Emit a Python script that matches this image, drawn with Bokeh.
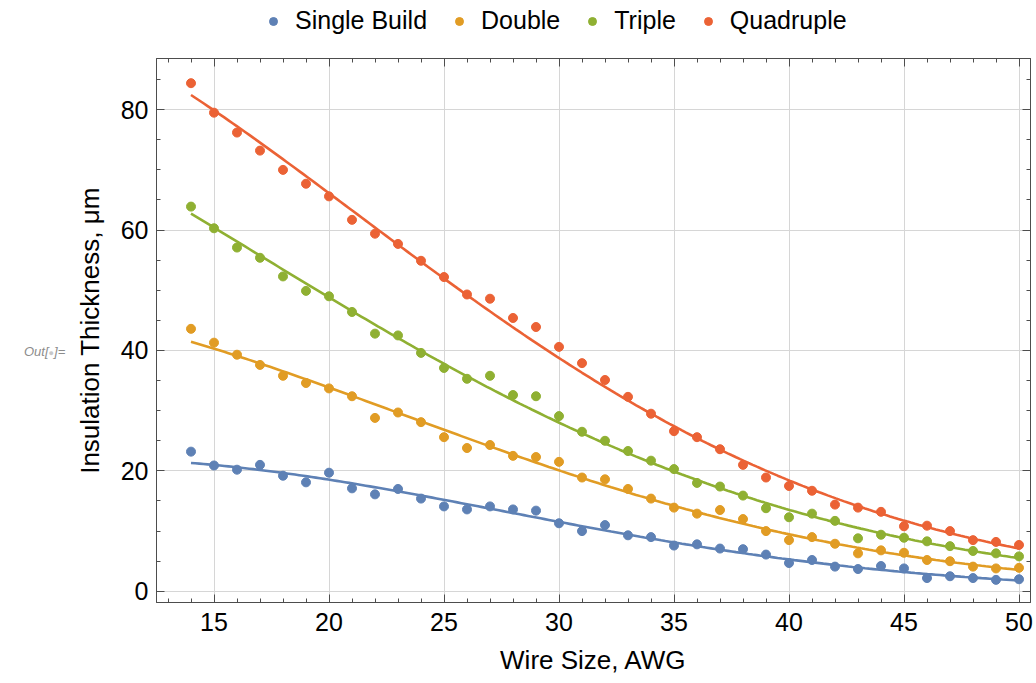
from bokeh.plotting import figure
from bokeh.models import Range1d, LinearAxis, Legend, LegendItem, FixedTicker, Div
from bokeh.layouts import row, column
from bokeh.embed import file_html
from bokeh.resources import INLINE
import numpy as np

awg = list(range(14, 51))
single = [23.2, 20.9, 20.2, 21.0, 19.2, 18.1, 19.7, 17.1, 16.1, 17.0, 15.4, 14.1, 13.6,
          14.1, 13.6, 13.4, 11.3, 10.0, 11.0, 9.3, 9.0, 7.6, 7.8, 7.1, 7.0, 6.1, 4.7,
          5.2, 4.1, 3.7, 4.2, 3.8, 2.2, 2.5, 2.2, 1.9, 2.0]
double = [43.6, 41.3, 39.3, 37.6, 35.8, 34.6, 33.7, 32.4, 28.8, 29.7, 28.1, 25.6, 23.8,
          24.3, 22.5, 22.3, 21.5, 18.9, 18.6, 17.0, 15.4, 13.9, 12.9, 13.5, 12.0, 10.0,
          8.5, 9.0, 7.9, 6.3, 6.8, 6.4, 5.2, 5.0, 4.1, 3.8, 3.9]
triple = [63.9, 60.3, 57.1, 55.4, 52.3, 49.9, 49.0, 46.4, 42.8, 42.5, 39.6, 37.1, 35.3,
          35.8, 32.6, 32.4, 29.1, 26.5, 25.0, 23.3, 21.7, 20.3, 18.0, 17.4, 15.9, 13.8,
          12.3, 12.9, 11.7, 8.8, 9.4, 8.9, 8.3, 7.5, 6.7, 6.3, 5.8]
quadruple = [84.4, 79.5, 76.2, 73.2, 70.0, 67.7, 65.6, 61.7, 59.4, 57.7, 54.9, 52.2, 49.3,
             48.6, 45.4, 43.9, 40.6, 37.9, 35.1, 32.3, 29.5, 26.6, 25.6, 23.6, 21.0, 18.9,
             17.5, 16.7, 14.4, 13.9, 13.2, 10.8, 10.9, 10.0, 8.5, 8.2, 7.7]

series_names = ["Single Build", "Double", "Triple", "Quadruple"]
series_values = [single, double, triple, quadruple]
colors = ["#5E81B5", "#E19C24", "#8FB032", "#EB6235"]

x_ticks = [15, 20, 25, 30, 35, 40, 45, 50]
y_ticks = [0, 20, 40, 60, 80]

FONT = "Liberation Sans"
AXC = "#4d4d4d"
DIV_W = 70
LEG_H = 57

p = figure(frame_width=874, frame_height=544, output_backend="svg", toolbar_location=None,
           x_range=Range1d(12.5, 50.5), y_range=Range1d(-1.86, 88.5),
           min_border_left=156 - DIV_W, min_border_right=6, min_border_top=1,
           min_border_bottom=81)
p.background_fill_color = "white"
p.border_fill_color = "white"
p.outline_line_color = AXC
p.outline_line_width = 1

xt = FixedTicker(ticks=x_ticks, minor_ticks=list(range(13, 51)))
yt = FixedTicker(ticks=y_ticks, minor_ticks=list(range(0, 90, 5)))

def style_axis(ax, labels=True):
    ax.axis_line_color = AXC
    ax.major_tick_line_color = AXC
    ax.minor_tick_line_color = AXC
    ax.major_tick_in = 8
    ax.major_tick_out = 0
    ax.minor_tick_in = 4
    ax.minor_tick_out = 0
    ax.major_label_text_font = FONT
    ax.major_label_text_color = "black"
    ax.axis_label_text_font = FONT
    ax.axis_label_text_font_style = "normal"
    ax.axis_label_text_color = "black"
    if labels:
        ax.major_label_text_font_size = "25px"
        ax.axis_label_text_font_size = "26px"
    else:
        ax.major_label_overrides = {t: "" for t in ax.ticker.ticks}
        ax.major_label_text_font_size = "1px"
        ax.major_label_standoff = 0

p.xaxis.ticker = xt
p.yaxis.ticker = yt
style_axis(p.xaxis[0])
style_axis(p.yaxis[0])
p.xaxis.axis_label = "Wire Size, AWG"
p.yaxis.axis_label = "Insulation Thickness, μm"
p.xaxis.major_label_standoff = 10
p.yaxis.major_label_standoff = 8
p.xaxis.axis_label_standoff = 11
p.yaxis.axis_label_standoff = 13

top = LinearAxis(ticker=xt)
right = LinearAxis(ticker=yt)
style_axis(top, labels=False)
style_axis(right, labels=False)
p.add_layout(top, "above")
p.add_layout(right, "right")

p.xgrid.ticker = FixedTicker(ticks=x_ticks)
p.ygrid.ticker = FixedTicker(ticks=y_ticks)
p.grid.grid_line_color = "#d6d6d6"
p.grid.grid_line_width = 1

# legend strip: a small figure whose frame holds only the legend
lf = figure(width=1036, height=LEG_H, output_backend="svg", toolbar_location=None,
            x_axis_type=None, y_axis_type=None, x_range=Range1d(0, 1), y_range=Range1d(0, 1),
            min_border=0, outline_line_color=None)
lf.grid.visible = False

items = []
xfit = np.linspace(14, 50, 200)
for name, vals, c in zip(series_names, series_values, colors):
    coef = np.polyfit(awg, np.log(vals), 2)
    p.line(xfit, np.exp(np.polyval(coef, xfit)), line_color=c, line_width=2.6)
    p.scatter(awg, vals, size=9, fill_color=c, line_color=c)
    r = lf.scatter(awg, vals, size=9, fill_color=c, line_color=c)  # off-range, legend only
    items.append(LegendItem(label=name, renderers=[r]))

legend = Legend(items=items, orientation="horizontal", location=(263, 22),
                label_text_font=FONT, label_text_font_size="25px",
                label_text_color="black", glyph_width=20, glyph_height=20,
                label_standoff=12, spacing=22, padding=4, margin=0,
                border_line_color=None, background_fill_alpha=0)
lf.add_layout(legend, "center")

out_div = Div(text='<span style="color:#8c8c8c">Out[</span><span style="color:#c8c8c8;font-size:9px;font-style:normal">●</span><span style="color:#8c8c8c">]=</span>',
              width=DIV_W, height=683 - LEG_H, margin=0,
              styles={"font-family": FONT, "font-style": "italic", "font-size": "13px",
                      "padding-top": f"{343 - LEG_H}px", "padding-left": "24px",
                      "box-sizing": "border-box"})

layout = column(lf, row(out_div, p, spacing=0), spacing=0)
open("out.html", "w").write(file_html(layout, INLINE))
